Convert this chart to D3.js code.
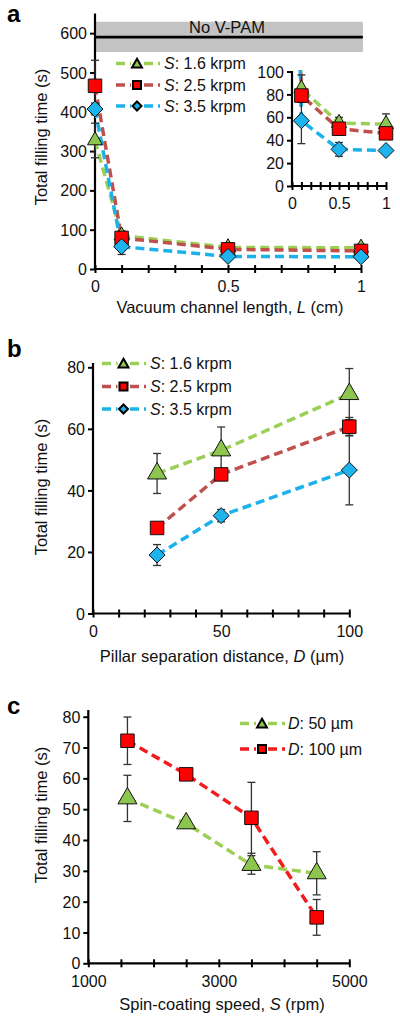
<!DOCTYPE html>
<html><head><meta charset="utf-8">
<script src="https://cdn.jsdelivr.net/npm/d3@7"></script>
<style>body{margin:0;background:#fff}svg{display:block}</style>
</head><body>
<svg id="chart" width="400" height="1020"></svg>
<script>
// ---------- DATA ----------
const lengthsL = [0, 0.1, 0.5, 1];
const aS16 = [327, 85, 55, 54];
const aS16err = [44, 12, 5, 9];
const aS25 = [466, 79, 50, 46];
const aS25err = [65, 5, 3, 3];
const aS35 = [407, 57, 32, 31];
const aS35err = [15, 20, 6, 2];
const noVPAM = 590, noVPAMlow = 552, noVPAMhigh = 629;

const distD = [25, 50, 100];
const bS16 = [45.5, 53, 71.3];
const bS16err = [6.5, 7.6, 8.3];
const bS25 = [27.8, 45.2, 60.7];
const bS25err = [1.5, 1.5, 3];
const bS35 = [19, 31.8, 46.6];
const bS35err = [3.4, 2, 11.3];

const speedS = [1600, 2500, 3500, 4500];
const cD50 = [53.5, 45.4, 31.9, 29.2];
const cD50err = [7.5, 1.5, 3, 7];
const cD100 = [72.2, 61.3, 47.2, 14.9];
const cD100err = [7.7, 1, 11.5, 5.8];

const aYTicks = [0, 100, 200, 300, 400, 500, 600];
const aXLabels = [0, 0.5, 1];
const insetYTicks = [0, 20, 40, 60, 80, 100];
const bYTicks = [0, 20, 40, 60, 80];
const bXLabels = [0, 50, 100];
const cYTicks = [0, 10, 20, 30, 40, 50, 60, 70, 80];
const cXLabels = [1000, 3000, 5000];

const legendA = ["1.6 krpm", "2.5 krpm", "3.5 krpm"];
const legendC = ["50 µm", "100 µm"];

// ---------- STYLE ----------
const FONT = "'Liberation Sans', Arial, sans-serif";
const TICKFS = 16, TITLEFS = 16.5, LEGFS = 16;
const C = {
  gLine: "#9BCF55", gFill: "#8CC64E",
  rLine: "#C0504D", rFill: "#FF0000", rLineC: "#F31B1B",
  bLine: "#1BB2EA", bFill: "#1DB4EE",
  err: "#333"
};
const svg = d3.select("#chart");

function shapePath(type, s) {
  if (type === "tri") {
    const h = s * Math.sqrt(3) / 2;
    return `M0,${-h*2/3}L${s/2},${h/3}L${-s/2},${h/3}Z`;
  }
  if (type === "sq") { const a = s / 2; return `M${-a},${-a}H${a}V${a}H${-a}Z`; }
  if (type === "dia") { const a = s / 2; return `M0,${-a}L${a},0L0,${a}L${-a},0Z`; }
}

function drawSeries(g, x, y, xs, ys, errs, o) {
  const line = d3.line().x((d, i) => x(xs[i])).y(d => y(d));
  g.append("path").datum(ys).attr("d", line)
    .attr("fill", "none").attr("stroke", o.line).attr("stroke-width", 3.5)
    .attr("stroke-dasharray", "9,5");
  return () => {
    const eg = g.append("g");
    ys.forEach((v, i) => {
      const e = errs[i]; if (!e) return;
      const cx = x(xs[i]);
      eg.append("line").attr("x1", cx).attr("x2", cx).attr("y1", y(v - e)).attr("y2", y(v + e))
        .attr("stroke", C.err).attr("stroke-width", 1.3);
      [v - e, v + e].forEach(w => eg.append("line").attr("x1", cx - 4).attr("x2", cx + 4)
        .attr("y1", y(w)).attr("y2", y(w)).attr("stroke", C.err).attr("stroke-width", 1.3));
    });
  };
}
function drawMarkers(g, x, y, xs, ys, o) {
  g.selectAll(null).data(ys).enter().append("path")
    .attr("transform", (d, i) => `translate(${x(xs[i])},${y(d)})`)
    .attr("d", shapePath(o.shape, o.size))
    .attr("fill", o.fill).attr("stroke", "#111").attr("stroke-width", 1);
}

function axes(g, x, y, yTicks, xMinor, xLabels, fmtX, yTop, fs) {
  const [x0, x1] = x.range();
  const [yb] = y.range();
  g.append("line").attr("x1", x0).attr("x2", x0).attr("y1", yb).attr("y2", yTop)
    .attr("stroke", "#000").attr("stroke-width", 2.2);
  const ya = d3.axisLeft(y).tickValues(yTicks).tickSize(5).tickSizeOuter(0).tickFormat(d3.format("d"));
  const yg = g.append("g").attr("transform", `translate(${x0},0)`).call(ya);
  yg.select(".domain").remove();
  yg.selectAll(".tick line").attr("stroke", "#000").attr("stroke-width", 2);
  yg.selectAll(".tick text").attr("x", -8).attr("dy", "0.35em")
    .attr("font-family", FONT).attr("font-size", fs).attr("fill", "#111");
  g.append("line").attr("x1", x0).attr("x2", x1 + 1).attr("y1", yb).attr("y2", yb)
    .attr("stroke", "#000").attr("stroke-width", 2.2);
  const xa = d3.axisBottom(x).tickValues(xMinor).tickSize(4).tickSizeOuter(0)
    .tickFormat(d => xLabels.some(v => Math.abs(v - d) < 1e-9) ? fmtX(d) : "");
  const xg = g.append("g").attr("transform", `translate(0,${yb})`).call(xa);
  xg.select(".domain").remove();
  xg.selectAll(".tick line").attr("y1", -4).attr("y2", 4).attr("stroke", "#000").attr("stroke-width", 2);
  xg.selectAll(".tick text").attr("y", 12).attr("dy", "0.71em")
    .attr("font-family", FONT).attr("font-size", fs).attr("fill", "#111");
}

function yTitle(cy) {
  svg.append("text").attr("transform", `translate(47,${cy}) rotate(-90)`)
    .attr("text-anchor", "middle").attr("font-family", FONT).attr("font-size", TITLEFS).attr("fill", "#111")
    .text("Total filling time (s)");
}
function xTitle(cx, y, pre, ital, post) {
  const t = svg.append("text").attr("x", cx).attr("y", y).attr("text-anchor", "middle")
    .attr("font-family", FONT).attr("font-size", TITLEFS).attr("fill", "#111");
  t.append("tspan").text(pre);
  t.append("tspan").attr("font-style", "italic").text(ital);
  t.append("tspan").text(post);
}
function letter(ch, x, y) {
  svg.append("text").attr("x", x).attr("y", y).attr("font-family", FONT).attr("font-weight", "bold")
    .attr("font-size", 24).attr("fill", "#000").text(ch);
}
function legend(items, x0, x1, xm, ys, tx, varName) {
  items.forEach((it, i) => {
    const y = ys[i];
    svg.append("line").attr("x1", x0).attr("x2", x1).attr("y1", y).attr("y2", y)
      .attr("stroke", it.line).attr("stroke-width", 3.5).attr("stroke-dasharray", "9,5");
    svg.append("rect").attr("x", xm - 6).attr("y", y - 6).attr("width", 12).attr("height", 12).attr("fill", "#fff");
    svg.append("path").attr("transform", `translate(${xm},${y + (it.shape === "tri" ? 1 : 0)})`)
      .attr("d", shapePath(it.shape, it.shape === "dia" ? 9 : (it.shape === "tri" ? 10 : 8)))
      .attr("fill", it.fill).attr("stroke", "#000").attr("stroke-width", 2);
    const t = svg.append("text").attr("x", tx).attr("y", y + 5.5).attr("font-family", FONT)
      .attr("font-size", LEGFS).attr("fill", "#111");
    t.append("tspan").attr("font-style", "italic").text(varName);
    t.append("tspan").text(": " + it.label);
  });
}

const fmtA = d => d === 0 ? "0" : (d === 1 ? "1" : d3.format(".1f")(d));
const seriesA = [
  { ys: aS16, err: aS16err, line: C.gLine, fill: C.gFill, shape: "tri", size: 15 },
  { ys: aS25, err: aS25err, line: C.rLine, fill: C.rFill, shape: "sq", size: 13.5 },
  { ys: aS35, err: aS35err, line: C.bLine, fill: C.bFill, shape: "dia", size: 16 }
];

// ---------- PANEL A ----------
{
  const x = d3.scaleLinear().domain([0, 1]).range([95, 361]);
  const y = d3.scaleLinear().domain([0, 650]).range([269, 13.5]);
  const g = svg.append("g");
  g.append("rect").attr("x", x(0)).attr("width", x(1.007) - x(0))
    .attr("y", y(noVPAMhigh)).attr("height", y(noVPAMlow) - y(noVPAMhigh)).attr("fill", "#C3C3C3");
  g.append("line").attr("x1", x(0)).attr("x2", x(1.007)).attr("y1", y(noVPAM)).attr("y2", y(noVPAM))
    .attr("stroke", "#000").attr("stroke-width", 2.8);
  g.append("text").attr("x", 227).attr("y", 32.5).attr("text-anchor", "middle").attr("font-family", FONT)
    .attr("font-size", 16.5).attr("fill", "#111").text("No V-PAM");
  axes(g, x, y, aYTicks, d3.range(0, 11).map(i => i / 10), aXLabels, fmtA, 13.5, TICKFS);
  const errFns = seriesA.map(s => drawSeries(g, x, y, lengthsL, s.ys, s.err, s));
  errFns.forEach(f => f());
  seriesA.forEach(s => drawMarkers(g, x, y, lengthsL, s.ys, s));

  // inset
  const xi = d3.scaleLinear().domain([0, 1]).range([292, 386]);
  const yi = d3.scaleLinear().domain([0, 100]).range([186, 71.5]);
  const gi = svg.append("g");
  axes(gi, xi, yi, insetYTicks, d3.range(0, 11).map(i => i / 10), aXLabels, fmtA, 71, TICKFS);
  svg.append("clipPath").attr("id", "clipI").append("rect").attr("x", 291).attr("y", 70).attr("width", 105).attr("height", 118);
  const gc = gi.append("g").attr("clip-path", "url(#clipI)");
  const ef = seriesA.map(s => drawSeries(gc, xi, yi, lengthsL, s.ys, s.err, s));
  ef.forEach(f => f());
  seriesA.forEach(s => drawMarkers(gc, xi, yi, lengthsL, s.ys, s));

  legend([
    { line: C.gLine, fill: C.gFill, shape: "tri", label: legendA[0] },
    { line: C.rLine, fill: C.rFill, shape: "sq", label: legendA[1] },
    { line: C.bLine, fill: C.bFill, shape: "dia", label: legendA[2] }
  ], 116, 160, 137, [63.5, 85, 106], 164, "S");

  yTitle(137);
  xTitle(230, 313, "Vacuum channel length, ", "L", " (cm)");
  letter("a", 7, 22);
}

// ---------- PANEL B ----------
{
  const x = d3.scaleLinear().domain([0, 100]).range([93, 349.3]);
  const y = d3.scaleLinear().domain([0, 80]).range([613.5, 367.3]);
  const g = svg.append("g");
  axes(g, x, y, bYTicks, d3.range(0, 101, 10), bXLabels, d3.format("d"), 363, TICKFS);
  const sb = [
    { ys: bS16, err: bS16err, line: C.gLine, fill: C.gFill, shape: "tri", size: 19 },
    { ys: bS25, err: bS25err, line: C.rLine, fill: C.rFill, shape: "sq", size: 13.5 },
    { ys: bS35, err: bS35err, line: C.bLine, fill: C.bFill, shape: "dia", size: 16 }
  ];
  const ef = sb.map(s => drawSeries(g, x, y, distD, s.ys, s.err, s));
  ef.forEach(f => f());
  sb.forEach(s => drawMarkers(g, x, y, distD, s.ys, s));
  legend([
    { line: C.gLine, fill: C.gFill, shape: "tri", label: legendA[0] },
    { line: C.rLine, fill: C.rFill, shape: "sq", label: legendA[1] },
    { line: C.bLine, fill: C.bFill, shape: "dia", label: legendA[2] }
  ], 102, 146, 123.5, [363.5, 386.5, 409], 150, "S");
  yTitle(487);
  xTitle(222, 662, "Pillar separation distance, ", "D", " (µm)");
  letter("b", 7, 357);
}

// ---------- PANEL C ----------
{
  const x = d3.scaleLinear().domain([1000, 5000]).range([88.3, 349.3]);
  const y = d3.scaleLinear().domain([0, 80]).range([963.3, 716.7]);
  const g = svg.append("g");
  axes(g, x, y, cYTicks, d3.range(1000, 5001, 500), cXLabels, d3.format("d"), 710, TICKFS);
  const sc = [
    { ys: cD50, err: cD50err, line: C.gLine, fill: C.gFill, shape: "tri", size: 19 },
    { ys: cD100, err: cD100err, line: C.rLineC, fill: C.rFill, shape: "sq", size: 13.5 }
  ];
  const ef = sc.map(s => drawSeries(g, x, y, speedS, s.ys, s.err, s));
  ef.forEach(f => f());
  sc.forEach(s => drawMarkers(g, x, y, speedS, s.ys, s));
  legend([
    { line: C.gLine, fill: C.gFill, shape: "tri", label: legendC[0] },
    { line: C.rLineC, fill: C.rFill, shape: "sq", label: legendC[1] }
  ], 240, 285, 262, [723.5, 749], 288, "D");
  yTitle(815);
  xTitle(222, 1010, "Spin-coating speed, ", "S", " (rpm)");
  letter("c", 7, 714);
}
</script>
</body></html>
